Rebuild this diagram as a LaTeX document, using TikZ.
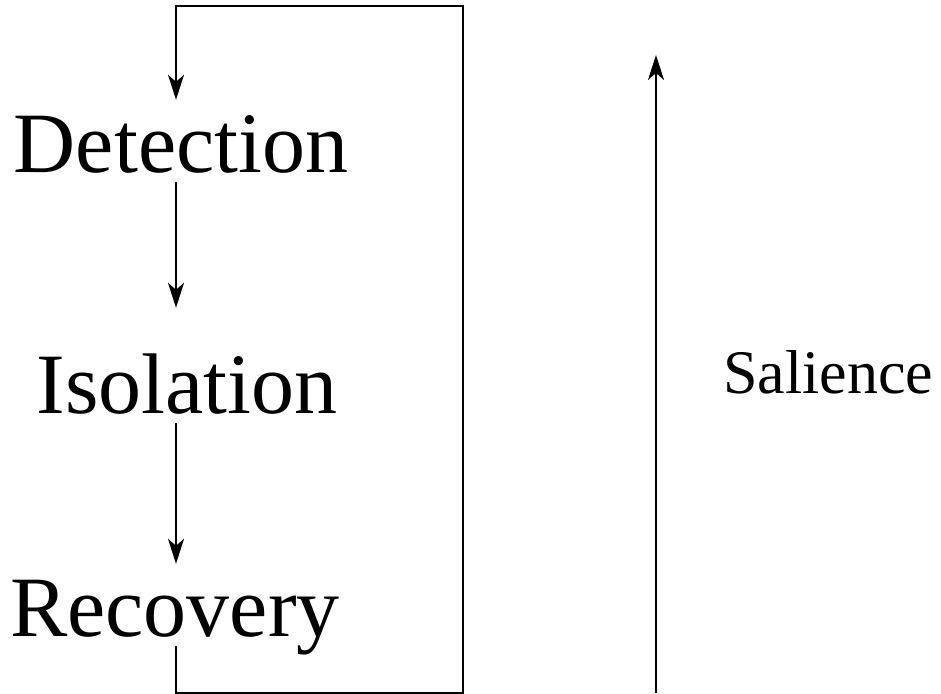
\documentclass[tikz,border=0pt]{standalone}
\usepackage{fontspec}
\setmainfont{Liberation Serif}
\usetikzlibrary{arrows.meta,calc}

\begin{document}
\begin{tikzpicture}[x=1pt,y=-1pt,
  stage/.style={font=\fontsize{86}{90}\selectfont,inner sep=0pt,text height=72pt,text depth=10pt,anchor=base},
  flow/.style={line width=2pt,-{Stealth[length=25pt,width=16pt,inset=7pt]}}]
  \useasboundingbox (0,0) rectangle (941,693);
  \node [stage] (det) at (181,172) {Detection};
  \node [stage] (iso) at (187,413) {Isolation};
  \node [stage] (rec) at (175,636) {Recovery};
  \coordinate (top) at (176,6);
  \coordinate (topright) at (463,6);
  \coordinate (bot) at (176,693);
  \coordinate (botright) at (463,693);
  \draw [flow] (det.south -| top) -- ($ (iso.north -| top) + (0,-33) $);
  \draw [flow] (iso.south -| top) -- (rec.north -| top);
  \draw [flow] (rec.south -| bot) -- (bot) -- (botright) -- (topright) -- (top) -- (det.north -| top);
  \node [font=\fontsize{62}{66}\selectfont,inner sep=0pt,anchor=base] (sal) at (828,393) {Salience};
  \coordinate (scalebot) at (656,693);
  \coordinate (scaletop) at (656,55);
  \draw [flow,line width=2.6pt] (scalebot) -- (scaletop);
\end{tikzpicture}
\end{document}
